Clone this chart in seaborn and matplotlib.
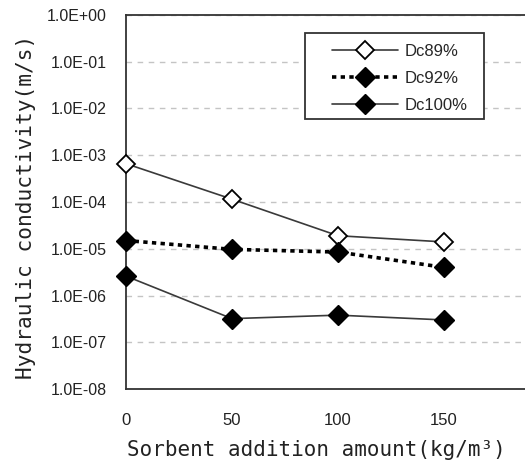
import matplotlib
matplotlib.use("Agg")
import matplotlib.pyplot as plt
import numpy as np
import pandas as pd
import seaborn as sns
from matplotlib.patches import Rectangle
from matplotlib.ticker import LogLocator, FuncFormatter, NullFormatter, FixedLocator

# Hydraulic conductivity vs sorbent addition for three compaction degrees
amount = [0, 50, 100, 150]
dc89 = [6.6e-4, 1.15e-4, 1.9e-5, 1.4e-5]
dc92 = [1.5e-5, 9.7e-6, 8.5e-6, 4.0e-6]
dc100 = [2.6e-6, 3.2e-7, 3.8e-7, 3.0e-7]
series_names = ["Dc89%", "Dc92%", "Dc100%"]
x_ticks = [0, 50, 100, 150]

df = pd.DataFrame({
    "amount": amount * 3,
    "k": dc89 + dc92 + dc100,
    "series": [n for n in series_names for _ in amount],
})

sns.set_style("white")
plt.rcParams["font.family"] = ["Liberation Sans", "DejaVu Sans"]

fig = plt.figure(figsize=(5.25, 4.68), dpi=100)
ax = fig.add_axes([126 / 525, 79 / 468, 399 / 525, 374 / 468])

styles = {
    "Dc89%": dict(color="#3a3a3a", lw=1.2, ls="-", marker="D", ms=9.5,
                  mfc="white", mec="black", mew=1.3),
    "Dc92%": dict(color="black", lw=2.6, ls=(0, (1.2, 1.2)), marker="D", ms=10,
                  mfc="black", mec="black", mew=1.0),
    "Dc100%": dict(color="#3a3a3a", lw=1.2, ls="-", marker="D", ms=10,
                   mfc="black", mec="black", mew=1.0),
}

for name in series_names:
    sub = df[df["series"] == name]
    st = styles[name]
    sns.lineplot(data=sub, x="amount", y="k", ax=ax, label=name,
                 color=st["color"], linewidth=st["lw"], linestyle=st["ls"],
                 marker=st["marker"], markersize=st["ms"],
                 markerfacecolor=st["mfc"], markeredgecolor=st["mec"],
                 markeredgewidth=st["mew"], clip_on=False, zorder=5)

ax.set_yscale("log")
ax.set_ylim(1e-8, 1)
ax.set_xlim(0, 399 / 106 * 50)

ax.xaxis.set_major_locator(FixedLocator(x_ticks))
ax.yaxis.set_major_locator(LogLocator(base=10, numticks=20))
ax.yaxis.set_minor_locator(LogLocator(base=10, subs=np.arange(2, 10), numticks=20))
ax.yaxis.set_major_formatter(FuncFormatter(lambda v, p: f"{v:.1E}"))
ax.yaxis.set_minor_formatter(NullFormatter())

ax.tick_params(axis="y", which="major", direction="in", length=7, width=1.2,
               labelsize=11.5, pad=14, colors="#222222")
ax.tick_params(axis="y", which="minor", direction="in", length=4, width=0.9,
               colors="#222222")
ax.tick_params(axis="x", which="major", direction="in", length=4, width=1.0,
               labelsize=12, pad=17, colors="#222222")

ax.yaxis.grid(True, which="major", linestyle=(0, (4, 4)), color="#c4c4c4", lw=1.0)
ax.set_axisbelow(True)

for side in ["left", "bottom", "top"]:
    ax.spines[side].set_color("#333333")
    ax.spines[side].set_linewidth(1.3)
ax.spines["right"].set_visible(False)

mono = ["DejaVu Sans Mono", "DejaVu Sans"]
ax.set_xlabel("Sorbent addition amount(kg/m³)", fontsize=15, family=mono,
              color="#222222", labelpad=9)
ax.set_ylabel("Hydraulic conductivity(m/s)", fontsize=15.2, family=mono,
              color="#222222", labelpad=8)
ax.xaxis.label.set_x(0.476)
ax.yaxis.label.set_y(0.487)

# legend entries without frame, boxed by a separate rectangle
leg = ax.legend(loc="upper left", bbox_to_anchor=(0.516, 0.9225), frameon=False,
                fontsize=12, handlelength=3.95, handletextpad=0.4, borderpad=0,
                borderaxespad=0, labelspacing=0.72)
box = Rectangle((0.4486, 0.722), 0.4486, 0.230, transform=ax.transAxes,
                facecolor="white", edgecolor="#333333", lw=1.3, zorder=8)
ax.add_patch(box)
leg.set_zorder(9)

fig.savefig("out.png", dpi=100)
